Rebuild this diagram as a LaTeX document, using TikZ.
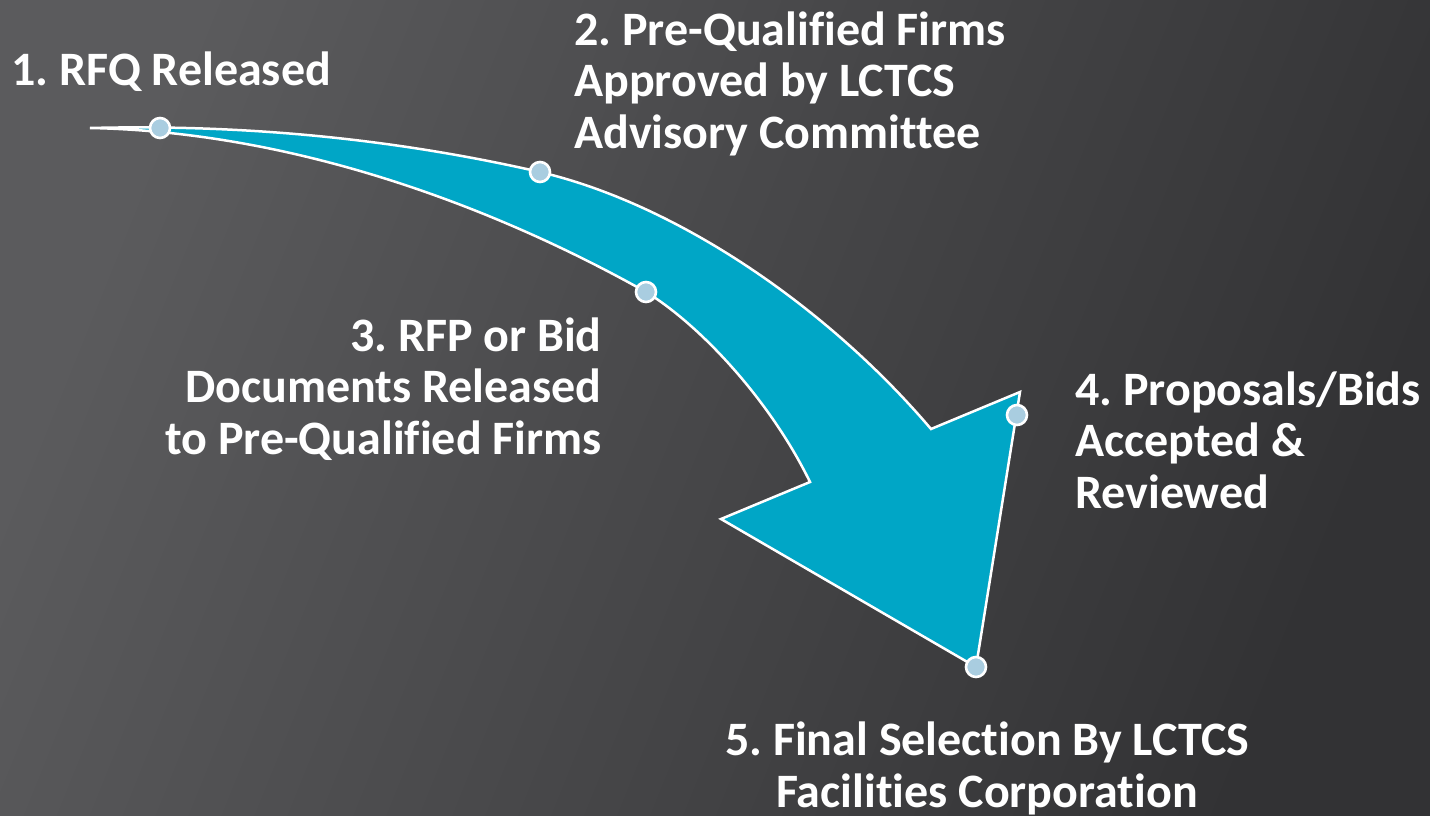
\documentclass[tikz,border=0pt]{standalone}
\usepackage{fontspec}
\setmainfont[Ligatures=NoCommon]{Carlito}
\frenchspacing
\usepackage{tikz}
\usetikzlibrary{positioning}
\definecolor{bgtop}{HTML}{5B5B5D}
\definecolor{bgbot}{HTML}{323234}
\definecolor{flow}{HTML}{00A6C6}
\definecolor{dotblue}{HTML}{A9CDE0}

\begin{document}
\begin{tikzpicture}[x=1pt,y=-1pt,line join=miter,
                    semithick]
  \tikzstyle{every step}=[text=white,inner sep=0pt,
  font=\fontsize{48}{51.5}\selectfont\bfseries]
  \tikzstyle{milestone}=[circle,draw=white,line width=2.6pt,
  fill=dotblue,inner sep=0pt,minimum size=20pt]
  \shade[top color=bgtop,bottom color=bgbot,shading angle=68]
        (0,0) rectangle (1430,816);
  \useasboundingbox (0,0) rectangle (1430,816);

  \coordinate (tail)   at (90,128);
  \coordinate (notchR) at (931,429);
  \coordinate (barbR)  at (1020,392);
  \coordinate (tip)    at (976,667);
  \coordinate (barbL)  at (721,519);
  \coordinate (notchL) at (810,482);

  \filldraw[fill=flow,draw=white,line width=2.5pt]
    (tail) .. controls (250,124) and (400,140) .. (540,172)
           .. controls (680,205) and (830,310) .. (notchR)
        -- (barbR) -- (tip) -- (barbL) -- (notchL)
           .. controls (770,400) and (700,325) .. (646,292)
           .. controls (500,210) and (300,132) .. cycle;

  \node[milestone] (d1) at (160,128) {};
  \node[milestone] (d2) at (540,172) {};
  \node[milestone] (d3) at (646,292) {};
  \node[milestone] (d4) at (1017,415) {};
  \node[milestone] (d5) at (tip) {};

  % multi-line nodes: base is the last line
  \node[every step,anchor=base west] (s1) at (11,85) {1. RFQ Released};
  \node[every step,anchor=base west,align=left] (s2) at (574,148)
    {2. Pre-Qualified Firms\\Approved by LCTCS\\Advisory Committee};
  \node[every step,anchor=base east,align=right] (s3) at (602,454)
    {3. RFP or Bid\\Documents Released\\to Pre-Qualified Firms};
  \node[every step,anchor=base west,align=left] (s4) at (1075,508)
    {4. Proposals/Bids\\Accepted \&\\Reviewed};
  \node[every step,anchor=base,align=center] (s5) at (987,807)
    {5. Final Selection By LCTCS\\Facilities Corporation};
\end{tikzpicture}
\end{document}
